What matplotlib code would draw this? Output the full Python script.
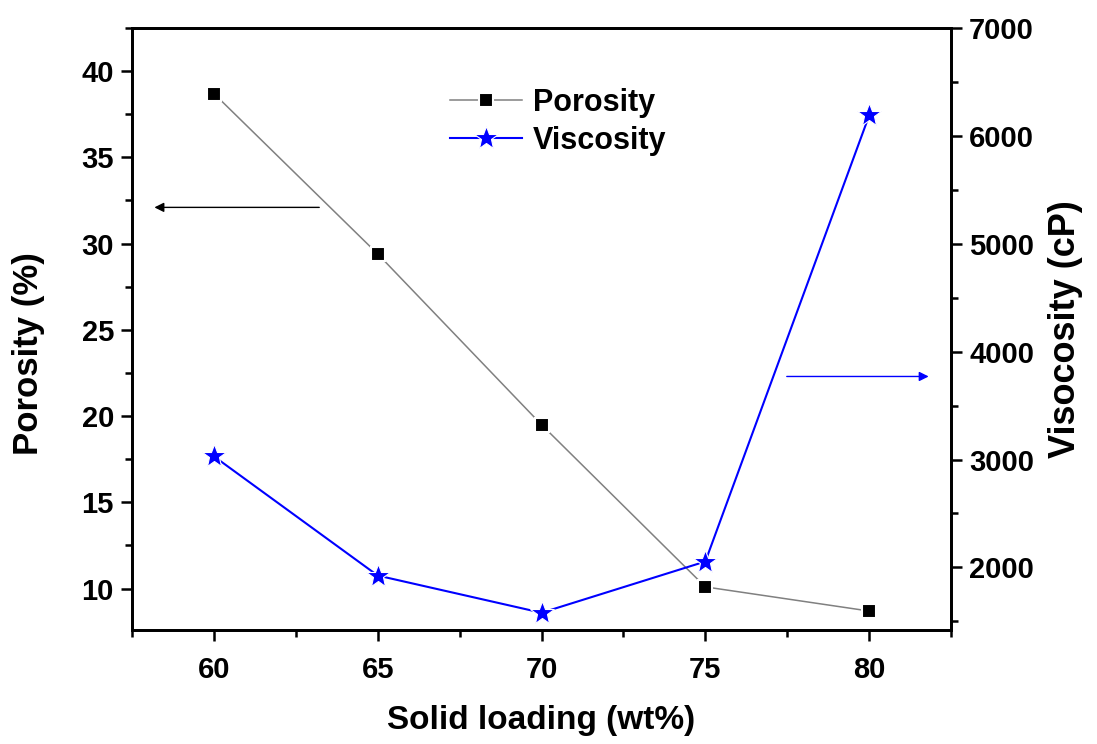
import matplotlib.pyplot as plt
from matplotlib.ticker import MultipleLocator

# data
loading = [60, 65, 70, 75, 80]
porosity = [38.7, 29.4, 19.5, 10.1, 8.7]
viscosity = [3030, 1925, 1580, 2055, 6190]

plt.rcParams['font.family'] = ['Liberation Sans', 'DejaVu Sans']
plt.rcParams['font.weight'] = 'bold'

fig, ax = plt.subplots(figsize=(10.97, 7.44), dpi=100)
fig.subplots_adjust(left=0.1203, right=0.867, top=0.9624, bottom=0.1532)
ax2 = ax.twinx()

# white marker edges leave the small gap between line and marker seen in the original
l1, = ax.plot(loading, porosity, '-', color='#808080', lw=1.1,
              marker='s', mfc='black', mec='white', mew=1.5, ms=10, label='Porosity')
l2, = ax2.plot(loading, viscosity, '-', color='blue', lw=1.5,
               marker='*', mfc='blue', mec='white', mew=0.8, ms=18, label='Viscosity')

ax.set_xlim(57.5, 82.5)
ax.set_ylim(7.6, 42.5)
ax2.set_ylim(1420, 7000)

ax.xaxis.set_major_locator(MultipleLocator(5))
ax.xaxis.set_minor_locator(MultipleLocator(2.5))
ax.yaxis.set_major_locator(MultipleLocator(5))
ax.yaxis.set_minor_locator(MultipleLocator(2.5))
ax2.yaxis.set_major_locator(MultipleLocator(1000))
ax2.yaxis.set_minor_locator(MultipleLocator(500))

for a in (ax, ax2):
    for s in a.spines.values():
        s.set_linewidth(2)
    a.tick_params(which='major', direction='out', length=8, width=1.8,
                  labelsize=21, pad=5)
    a.tick_params(which='minor', direction='out', length=5, width=1.8)
ax.tick_params(axis='x', which='major', pad=11)

ax.set_xlabel('Solid loading (wt%)', fontsize=24, fontweight='bold', labelpad=15)
ax.set_ylabel('Porosity (%)', fontsize=25, fontweight='bold')
ax.yaxis.set_label_coords(-0.106, 0.46)
ax2.set_ylabel('Visocosity (cP)', fontsize=26, fontweight='bold', labelpad=10)

# arrows pointing to the matching axis
ax.annotate('', xy=(58.1, 32.1), xytext=(63.3, 32.1),
            arrowprops=dict(arrowstyle='-|>', color='black', lw=1, mutation_scale=14))
ax2.annotate('', xy=(81.9, 3770), xytext=(77.4, 3770),
             arrowprops=dict(arrowstyle='-|>', color='blue', lw=1, mutation_scale=14))

ax.legend([l1, l2], ['Porosity', 'Viscosity'], loc='upper left',
          bbox_to_anchor=(0.388, 0.901), frameon=False, fontsize=22,
          borderpad=0, borderaxespad=0, handlelength=2.35,
          handletextpad=0.36, labelspacing=0.28)

plt.savefig('out.png', dpi=100)
